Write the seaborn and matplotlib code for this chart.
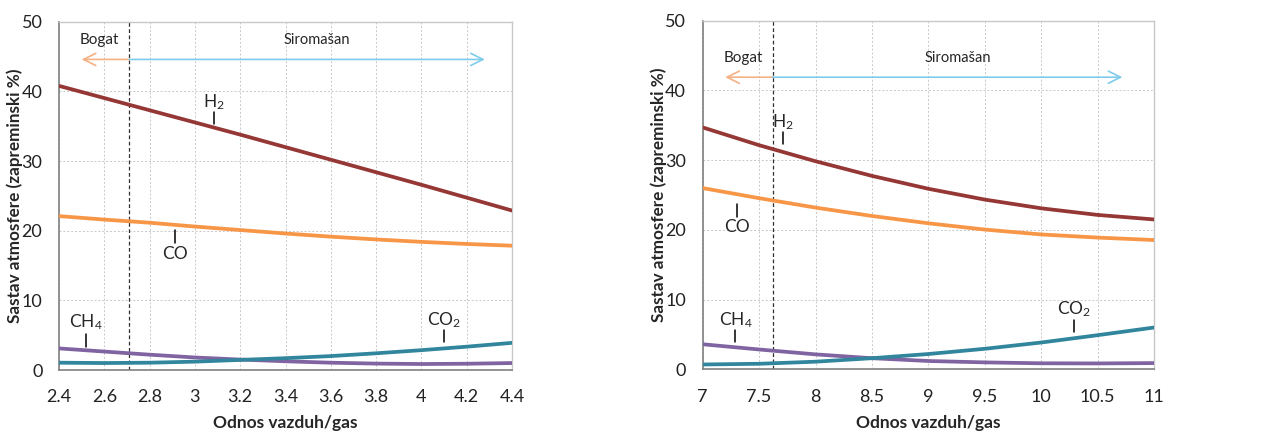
import numpy as np
import pandas as pd
import matplotlib
matplotlib.use("Agg")
import matplotlib.pyplot as plt
import seaborn as sns

# left panel: odnos vazduh/gas 2.4 - 4.4
x_left = [2.4, 2.6, 2.8, 3.0, 3.2, 3.4, 3.6, 3.8, 4.0, 4.2, 4.4]
h2_left = [40.8, 39.05, 37.3, 35.55, 33.8, 32.0, 30.2, 28.4, 26.6, 24.75, 22.9]
co_left = [22.1, 21.6, 21.15, 20.6, 20.1, 19.6, 19.15, 18.75, 18.4, 18.1, 17.85]
ch4_left = [3.1, 2.65, 2.2, 1.8, 1.5, 1.25, 1.05, 0.92, 0.86, 0.9, 1.0]
co2_left = [1.05, 1.0, 1.05, 1.2, 1.45, 1.7, 2.0, 2.4, 2.85, 3.35, 3.9]

# right panel: odnos vazduh/gas 7 - 11
x_right = [7.0, 7.5, 8.0, 8.5, 9.0, 9.5, 10.0, 10.5, 11.0]
h2_right = [34.7, 32.15, 29.85, 27.75, 25.9, 24.35, 23.1, 22.15, 21.5]
co_right = [26.0, 24.55, 23.2, 22.0, 20.95, 20.05, 19.35, 18.9, 18.55]
ch4_right = [3.6, 2.85, 2.15, 1.6, 1.2, 1.0, 0.87, 0.85, 0.9]
co2_right = [0.7, 0.8, 1.1, 1.6, 2.2, 2.95, 3.85, 4.9, 6.0]

gases = ["H2", "CO", "CH4", "CO2"]
colors = {"H2": "#953735", "CO": "#F79646", "CH4": "#8064A2", "CO2": "#31859C"}

x_ticks_left = [2.4, 2.6, 2.8, 3.0, 3.2, 3.4, 3.6, 3.8, 4.0, 4.2, 4.4]
x_tick_labels_left = ["2.4", "2.6", "2.8", "3", "3.2", "3.4", "3.6", "3.8", "4", "4.2", "4.4"]
x_ticks_right = [7, 7.5, 8, 8.5, 9, 9.5, 10, 10.5, 11]
x_tick_labels_right = ["7", "7.5", "8", "8.5", "9", "9.5", "10", "10.5", "11"]
y_ticks = [0, 10, 20, 30, 40, 50]


def long_frame(x, series):
    rows = []
    for gas, vals in zip(gases, series):
        for xi, yi in zip(x, vals):
            rows.append({"x": xi, "y": yi, "gas": gas})
    return pd.DataFrame(rows)


def draw_panel(ax, df, xlim, xticks, xlabels, boundary, arrow_y, arrow_l, arrow_r,
               text_y, bogat_x, siro_x, labels):
    sns.lineplot(data=df, x="x", y="y", hue="gas", palette=colors, linewidth=2.7,
                 legend=False, ax=ax, zorder=3)
    ax.set_xlim(*xlim)
    ax.set_ylim(0, 50)
    ax.set_xticks(xticks)
    ax.set_xticklabels(xlabels)
    ax.set_yticks(y_ticks)
    ax.grid(True, color="#c8c8c8", linestyle=(0, (2, 2)), linewidth=0.7)
    ax.tick_params(axis="both", labelsize=13, length=5, width=1, color="#808080",
                   direction="out", labelcolor="#222222")
    ax.tick_params(axis="x", pad=9)
    ax.tick_params(axis="y", pad=7)
    for side in ["left", "bottom"]:
        ax.spines[side].set_color("#808080")
        ax.spines[side].set_linewidth(1.2)
    for side in ["top", "right"]:
        ax.spines[side].set_color("#c8c8c8")
        ax.spines[side].set_linewidth(1.0)
    ax.axvline(boundary, color="#303030", linestyle=(0, (3, 2)), linewidth=0.9, zorder=2)
    ax.annotate("", xy=(arrow_l, arrow_y), xytext=(boundary, arrow_y),
                arrowprops=dict(arrowstyle="->", color="#F4B183", lw=1.2,
                                mutation_scale=22, shrinkA=0, shrinkB=0))
    ax.annotate("", xy=(arrow_r, arrow_y), xytext=(boundary, arrow_y),
                arrowprops=dict(arrowstyle="->", color="#7FCBEA", lw=1.2,
                                mutation_scale=22, shrinkA=0, shrinkB=0))
    ax.text(bogat_x, text_y, "Bogat", ha="center", va="center", fontsize=11)
    ax.text(siro_x, text_y, "Siromašan", ha="center", va="center", fontsize=10.5)
    for label, lx, ly, l0, l1 in labels:
        ax.text(lx, ly, label, ha="center", va="center", fontsize=12.5)
        ax.plot([lx, lx], [l0, l1], color="black", linewidth=1.1, zorder=4)
    ax.set_xlabel("Odnos vazduh/gas", fontsize=12.5, fontweight="bold")
    ax.set_ylabel("Sastav atmosfere (zapreminski %)", fontsize=12.3, fontweight="bold")
    ax.xaxis.set_label_coords(0.5, -0.13)
    ax.yaxis.set_label_coords(-0.08, 0.5)


sns.set_style("white")
plt.rcParams["font.family"] = ["Lato", "DejaVu Sans"]
plt.rcParams["mathtext.default"] = "regular"

fig = plt.figure(figsize=(12.67, 4.32), dpi=100)
ax1 = fig.add_axes([0.0466, 0.1435, 0.3575, 0.806])
ax2 = fig.add_axes([0.5546, 0.145, 0.3562, 0.807])

df_left = long_frame(x_left, [h2_left, co_left, ch4_left, co2_left])
df_right = long_frame(x_right, [h2_right, co_right, ch4_right, co2_right])

draw_panel(ax1, df_left, (2.4, 4.4), x_ticks_left, x_tick_labels_left, 2.71,
           44.6, 2.5, 4.28, 47.4, 2.58, 3.54,
           [("H$_2$", 3.085, 38.4, 37.1, 35.3),
            ("CO", 2.91, 16.7, 20.1, 18.2),
            ("CH$_4$", 2.52, 6.9, 5.1, 3.35),
            ("CO$_2$", 4.10, 7.2, 5.7, 4.0)])

draw_panel(ax2, df_right, (7, 11), x_ticks_right, x_tick_labels_right, 7.62,
           41.9, 7.2, 10.72, 44.7, 7.36, 9.26,
           [("H$_2$", 7.71, 35.4, 34.1, 32.3),
            ("CO", 7.30, 20.4, 23.7, 21.9),
            ("CH$_4$", 7.29, 7.1, 5.6, 3.9),
            ("CO$_2$", 10.29, 8.6, 7.1, 5.4)])

fig.savefig("out.png", dpi=100)
